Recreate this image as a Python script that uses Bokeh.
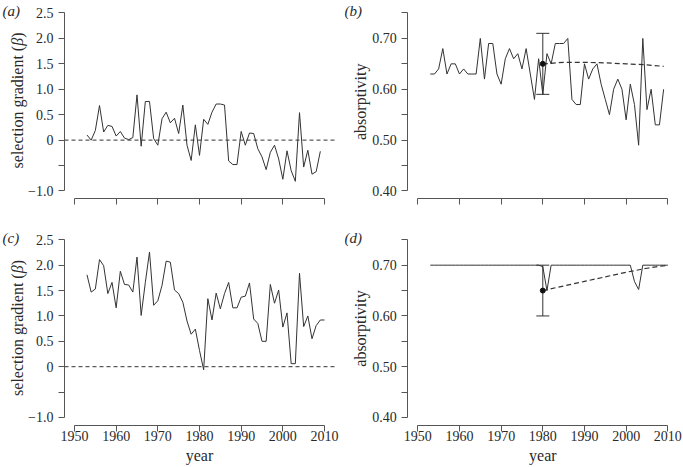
import math
from bokeh.plotting import figure
from bokeh.layouts import gridplot
from bokeh.models import (Label, Whisker, ColumnDataSource, FixedTicker,
                          TeeHead, Range1d)
from bokeh.embed import file_html
from bokeh.resources import INLINE

# ---------------- data ----------------
years_a = list(range(1953, 2010))
beta_a = [0.10, 0.00, 0.19, 0.68, 0.16, 0.29, 0.27, 0.08, 0.17, 0.04,
          0.01, 0.05, 0.89, -0.12, 0.76, 0.76, 0.03, -0.10, 0.42, 0.55,
          0.34, 0.43, 0.13, 0.69, -0.10, -0.40, 0.30, -0.30, 0.41, 0.31,
          0.55, 0.71, 0.71, 0.69, -0.41, -0.48, -0.48, 0.17, -0.10, 0.14,
          0.13, -0.17, -0.33, -0.58, -0.24, -0.10, -0.37, -0.77, -0.21, -0.60,
          -0.81, 0.54, -0.53, -0.20, -0.67, -0.62, -0.22]

years_b = list(range(1953, 2010))
absorp_b = [0.63, 0.63, 0.64, 0.68, 0.63, 0.65, 0.65, 0.63, 0.64, 0.63,
            0.63, 0.63, 0.70, 0.62, 0.69, 0.69, 0.63, 0.61, 0.66, 0.68,
            0.66, 0.67, 0.64, 0.68, 0.63, 0.58, 0.66, 0.59, 0.67, 0.65,
            0.69, 0.69, 0.69, 0.70, 0.58, 0.57, 0.57, 0.65, 0.62, 0.64,
            0.65, 0.61, 0.58, 0.55, 0.60, 0.62, 0.60, 0.54, 0.61, 0.57,
            0.49, 0.70, 0.56, 0.60, 0.53, 0.53, 0.60]
dash_years_b = [1980, 1982, 1985, 1990, 1995, 2000, 2005, 2009]
dash_vals_b = [0.650, 0.651, 0.653, 0.653, 0.652, 0.650, 0.648, 0.645]
err_year_b = [1980]
err_mean_b = [0.65]
err_lo_b = [0.59]
err_hi_b = [0.71]

years_c = list(range(1953, 2011))
beta_c = [1.81, 1.47, 1.53, 2.11, 1.99, 1.44, 1.66, 1.16, 1.88, 1.62,
          1.61, 1.47, 2.16, 1.01, 1.66, 2.26, 1.21, 1.30, 1.60, 2.08,
          2.06, 1.51, 1.44, 1.27, 0.90, 0.64, 0.74, 0.32, -0.06, 1.34,
          0.92, 1.45, 1.14, 1.44, 1.66, 1.16, 1.16, 1.37, 1.39, 1.65,
          0.94, 0.85, 0.50, 0.50, 1.62, 1.25, 1.51, 0.78, 1.06, 0.06,
          0.06, 1.84, 0.79, 1.00, 0.55, 0.81, 0.92, 0.92]

years_d = list(range(1953, 2011))
absorp_d = [0.70, 0.70, 0.70, 0.70, 0.70, 0.70, 0.70, 0.70, 0.70, 0.70,
            0.70, 0.70, 0.70, 0.70, 0.70, 0.70, 0.70, 0.70, 0.70, 0.70,
            0.70, 0.70, 0.70, 0.70, 0.70, 0.70, 0.70, 0.697, 0.65, 0.70,
            0.70, 0.70, 0.70, 0.70, 0.70, 0.70, 0.70, 0.70, 0.70, 0.70,
            0.70, 0.70, 0.70, 0.70, 0.70, 0.70, 0.70, 0.70, 0.70, 0.668,
            0.652, 0.70, 0.70, 0.70, 0.70, 0.70, 0.70, 0.70]
dash_years_d = [1980, 1985, 1990, 1995, 2000, 2005, 2010]
dash_vals_d = [0.650, 0.659, 0.668, 0.677, 0.686, 0.694, 0.700]
err_year_d = [1980]
err_mean_d = [0.65]
err_lo_d = [0.60]
err_hi_d = [0.70]

x_ticks = [1950, 1960, 1970, 1980, 1990, 2000, 2010]
beta_major = [-1.0, 0.0, 0.5, 1.0, 1.5, 2.0, 2.5]
beta_minor = [-0.5]
beta_labels = ["\u22121.0", "0", "0.5", "1.0", "1.5", "2.0", "2.5"]
abs_major = [0.40, 0.50, 0.60, 0.70]
abs_minor = [0.45, 0.55, 0.65, 0.75]
abs_labels = ["0.40", "0.50", "0.60", "0.70"]
zero_level = [0.0, 0.0]

# plotting-region limits (R style: axis range +/- 4%)
XLIM = (1947.6, 2012.4)

# ---------------- style ----------------
FONT = "Liberation Serif"
TXT = "#2a2a2a"
AXC = "#555555"
LINE = "#333333"
PX_PER_YEAR = 250 / 60.0


def make_fig(fw, fh, x_left_px, y_top_val, px_per_unit, x_axis_val,
             major, minor, labels, ybounds, show_x):
    x0 = XLIM[0] - x_left_px / PX_PER_YEAR
    x1 = x0 + fw / PX_PER_YEAR
    y1 = y_top_val
    y0 = y1 - fh / px_per_unit
    p = figure(frame_width=fw, frame_height=fh,
               x_range=Range1d(x0, x1), y_range=Range1d(y0, y1),
               output_backend="svg", toolbar_location=None,
               min_border_left=0, min_border_right=0,
               min_border_top=0, min_border_bottom=0)
    p.outline_line_color = None
    p.grid.visible = False
    p.background_fill_color = "white"
    p.border_fill_color = "white"
    for ax in (p.xaxis[0], p.yaxis[0]):
        ax.axis_line_color = AXC
        ax.major_tick_line_color = AXC
        ax.minor_tick_line_color = AXC
        ax.major_tick_in = 0
        ax.major_tick_out = 6
        ax.minor_tick_in = 0
        ax.minor_tick_out = 6
        ax.major_label_text_font = FONT
        ax.major_label_text_font_size = "14px"
        ax.major_label_text_color = TXT
    xa = p.xaxis[0]
    if show_x:
        xa.ticker = FixedTicker(ticks=x_ticks)
    else:
        xa.ticker = FixedTicker(ticks=[], minor_ticks=x_ticks)
    xa.bounds = (x_ticks[0], x_ticks[-1])
    xa.major_label_standoff = 0
    xa.fixed_location = x_axis_val
    ya = p.yaxis[0]
    ya.ticker = FixedTicker(ticks=major, minor_ticks=minor)
    ya.bounds = ybounds
    ya.major_label_standoff = 5
    ya.major_label_overrides = {t: l for t, l in zip(major, labels)}
    ya.fixed_location = XLIM[0]
    return p


def text(p, txt, x, y, size="16px", style="normal", angle=0.0,
         align="left", x_units="screen"):
    p.add_layout(Label(x=x, y=y, x_units=x_units, y_units="screen", text=txt,
                       angle=angle, text_font=FONT, text_font_size=size,
                       text_font_style=style, text_color=TXT,
                       text_align=align, text_baseline="middle"))


def ylab_beta(p, sx, sy_center):
    # "selection gradient (" + italic beta + ")"
    w1, w2, w3 = 122.6, 8.0, 5.3
    start = sy_center - (w1 + w2 + w3) / 2
    text(p, "selection gradient (", sx, start, angle=math.pi / 2)
    text(p, "\u03b2", sx, start + w1, style="italic", angle=math.pi / 2)
    text(p, ")", sx, start + w1 + w2, angle=math.pi / 2)


# top row: page 0..218 ; bottom row: page 218..466
# left column: page 0..344 ; right column: page 344..682
pa = make_fig(344, 218, 64, 2.7458, 50.85, -1.148,
              beta_major, beta_minor, beta_labels, (-1.0, 2.5), False)
pb = make_fig(338, 218, 63.3, 0.77458, 508.5, 0.3852,
              abs_major, abs_minor, abs_labels, (0.40, 0.75), False)
pc = make_fig(344, 248, 64, 2.9196, 50.76, -1.1584,
              beta_major, beta_minor, beta_labels, (-1.0, 2.5), True)
pd = make_fig(338, 248, 63.3, 0.79196, 507.6, 0.38416,
              abs_major, abs_minor, abs_labels, (0.40, 0.75), True)

# panel a
pa.line(XLIM, zero_level, line_color=LINE, line_dash="4 3", line_width=1)
pa.line(years_a, beta_a, line_color=LINE, line_width=1)
# panel c
pc.line(XLIM, zero_level, line_color=LINE, line_dash="4 3", line_width=1)
pc.line(years_c, beta_c, line_color=LINE, line_width=1)

# panel b
pb.line(years_b, absorp_b, line_color=LINE, line_width=1)
pb.line(dash_years_b, dash_vals_b, line_color=LINE, line_width=1.2, line_dash="5 3")
src_b = ColumnDataSource(dict(x=err_year_b, m=err_mean_b, lo=err_lo_b, hi=err_hi_b))
pb.add_layout(Whisker(base="x", lower="lo", upper="hi", source=src_b,
                      line_color=LINE, line_width=1,
                      upper_head=TeeHead(size=13, line_color=LINE, line_width=1),
                      lower_head=TeeHead(size=13, line_color=LINE, line_width=1)))
pb.scatter("x", "m", source=src_b, size=5, color="#111111")

# panel d
pd.line(years_d, absorp_d, line_color=LINE, line_width=1)
pd.line(dash_years_d, dash_vals_d, line_color=LINE, line_width=1.2, line_dash="5 3")
src_d = ColumnDataSource(dict(x=err_year_d, m=err_mean_d, lo=err_lo_d, hi=err_hi_d))
pd.add_layout(Whisker(base="x", lower="lo", upper="hi", source=src_d,
                      line_color=LINE, line_width=1,
                      upper_head=TeeHead(size=13, line_color=LINE, line_width=1),
                      lower_head=TeeHead(size=13, line_color=LINE, line_width=1)))
pd.scatter("x", "m", source=src_d, size=5, color="#111111")

# panel letters
text(pa, "(a)", 2, 208, size="15px", style="italic")
text(pb, "(b)", 0, 208, size="15px", style="italic")
text(pc, "(c)", 2, 229, size="15px", style="italic")
text(pd, "(d)", 0, 229, size="15px", style="italic")
# axis titles
ylab_beta(pa, 17, 118)
ylab_beta(pc, 17, 138.5)
text(pb, "absorptivity", 16, 116.7, angle=math.pi / 2, align="center")
text(pd, "absorptivity", 16, 138, angle=math.pi / 2, align="center")
text(pc, "year", 1980, 11, align="center", x_units="data")
text(pd, "year", 1980, 11, align="center", x_units="data")

grid = gridplot([[pa, pb], [pc, pd]], toolbar_location=None)
open("out.html", "w").write(file_html(grid, INLINE))
